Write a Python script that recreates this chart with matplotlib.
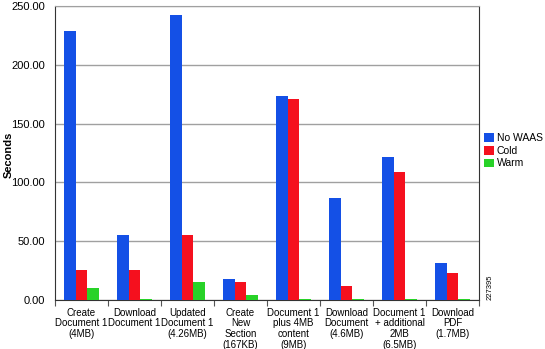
import numpy as np
import matplotlib.pyplot as plt

plt.rcParams['font.family'] = ['Liberation Sans', 'DejaVu Sans']

categories = ["Create\nDocument 1\n(4MB)", "Download\nDocument 1", "Updated\nDocument 1\n(4.26MB)",
              "Create\nNew\nSection\n(167KB)", "Document 1\nplus 4MB\ncontent\n(9MB)",
              "Download\nDocument\n(4.6MB)", "Document 1\n+ additional\n2MB\n(6.5MB)",
              "Download\nPDF\n(1.7MB)"]
no_waas = [229, 55.5, 242, 17.5, 173.5, 86.5, 121.5, 31.5]
cold = [25.5, 25.5, 55, 15.3, 170.5, 12, 108.5, 23]
warm = [10.2, 0.5, 15.3, 4, 0.5, 0.5, 0.5, 0.5]

fig = plt.figure(figsize=(5.45, 3.49), dpi=100)
ax = fig.add_axes([55/545, 1-300/349, 424/545, 294/349])

x = np.arange(len(categories))
w = 0.22
ax.bar(x - w, no_waas, w, color='#1450e6', label='No WAAS', zorder=3)
ax.bar(x, cold, w, color='#f5101e', label='Cold', zorder=3)
ax.bar(x + w, warm, w, color='#28d228', label='Warm', zorder=3)

ax.set_xlim(-0.5, len(categories) - 0.5)
ax.set_ylim(0, 250)
ax.set_yticks([0, 50, 100, 150, 200, 250])
ax.set_yticklabels(['%.2f' % v for v in [0, 50, 100, 150, 200, 250]], fontsize=8)
ax.yaxis.grid(True, color='#a0a0a0', linewidth=1, zorder=0)
ax.tick_params(axis='y', length=0, pad=7)

ax.set_xticks(np.arange(len(categories) + 1) - 0.5)
ax.set_xticklabels([])
ax.tick_params(axis='x', length=4, color='#555555')
for i, c in enumerate(categories):
    ax.text(i, -6.5, c, ha='center', va='top', fontsize=7, linespacing=1.1)

for s in ['left', 'bottom', 'right']:
    ax.spines[s].set_color('#333333')
ax.spines['top'].set_color('#a0a0a0')

# y label placed by hand so it stays inside the canvas
fig.text(9/545, 1-155/349, 'Seconds', rotation=90, fontsize=8, fontweight='bold',
         ha='center', va='center')

ax.legend(loc='upper left', bbox_to_anchor=(1.0, 0.585), frameon=False, fontsize=7.5,
          handlelength=0.9, handleheight=0.9, handletextpad=0.3, labelspacing=0.25,
          borderaxespad=0.3, borderpad=0.2)

fig.text(490/545, 1-287/349, '227395', rotation=90, fontsize=5.5, ha='center', va='center')

fig.savefig('out.png', dpi=100)
